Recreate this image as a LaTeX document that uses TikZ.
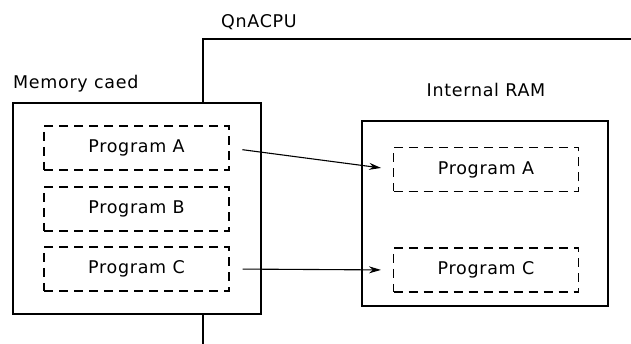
\documentclass[tikz,border=0pt]{standalone}
\usepackage{fontspec}
\setmainfont{DejaVu Sans}[LetterSpace=4]
\usetikzlibrary{arrows.meta}
\begin{document}
\begin{tikzpicture}[x=1pt,y=-1pt,
  box/.style={draw, line width=1.1pt, rectangle, inner sep=0pt},
  prog/.style={draw, line width=1.1pt, dash pattern=on 9pt off 6pt, rectangle, inner sep=0pt,
     minimum width=185pt, minimum height=44pt, font=\fontsize{17.5}{20}\selectfont},
  lbl/.style={font=\fontsize{17.5}{20}\selectfont, inner sep=0pt},
  arr/.style={line width=1.1pt, -{Stealth[length=12pt,width=7pt]}, shorten <=13pt, shorten >=12pt}]
\useasboundingbox (0,0) rectangle (631,344);
% Memory card
\node[box, minimum width=248pt, minimum height=211pt] (mem) at (137,208.5) {};
\node[lbl, anchor=base west] (memlbl) at (13,89) {Memory caed};
\node[prog] (pa) at (136.5,148) {Program A};
\node[prog] (pb) at (136.5,209) {Program B};
\node[prog] (pc) at (136.5,269) {Program C};
% QnACPU frame
\coordinate (qtop) at (203,39);
\coordinate (qright) at (631,39);
\coordinate (qbot) at (203,344);
\draw[line width=1.1pt] (mem.north -| qtop) -- (qtop) -- (qright);
\draw[line width=1.1pt] (mem.south -| qtop) -- (qbot);
\node[lbl, anchor=base west] (qlbl) at (221,28) {QnACPU};
% Internal RAM
\node[box, minimum width=246pt, minimum height=185pt] (ram) at (485,213.5) {};
\node[lbl, anchor=base] (ramlbl) at (486,97) {Internal RAM};
\node[prog] (ra) at (486,169.5) {Program A};
\node[prog] (rc) at (486,270) {Program C};
% arrows
\draw[arr] (pa.east) -- (ra.west);
\draw[arr] (pc.east) -- (rc.west);
\end{tikzpicture}
\end{document}
